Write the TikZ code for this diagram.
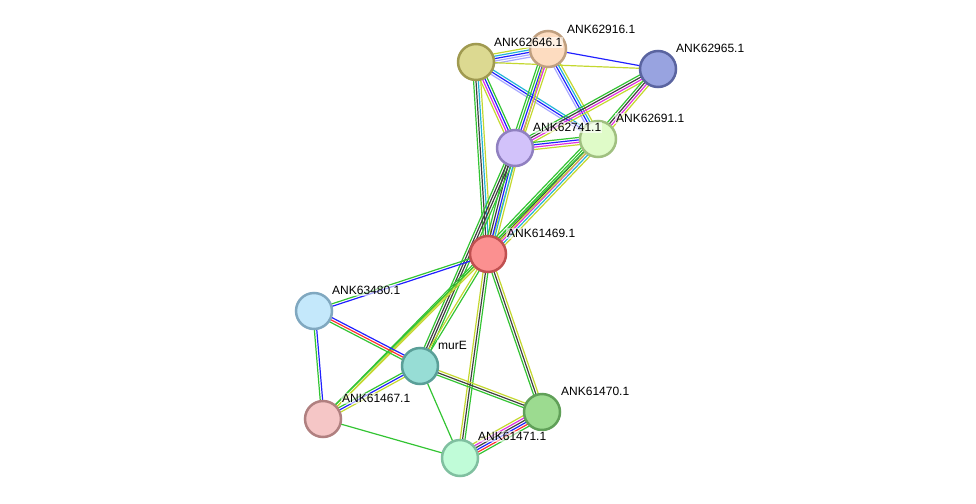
\documentclass[tikz,border=0pt]{standalone}
\usepackage{fontspec}
\setmainfont{Liberation Sans}
\usetikzlibrary{calc,backgrounds}
\definecolor{sgreen}{HTML}{33C433}
\definecolor{sblue}{HTML}{2020FF}
\definecolor{sblack}{HTML}{404040}
\definecolor{smag}{HTML}{E030E0}
\definecolor{scyan}{HTML}{22B4D8}
\definecolor{syellow}{HTML}{C4D830}
\definecolor{slav}{HTML}{A8A8FF}
\definecolor{sred}{HTML}{FF3030}
\tikzset{
  prot/.style={circle, minimum size=36pt, inner sep=0pt, line width=2.5pt},
  plabel/.style={font=\fontsize{12pt}{13pt}\selectfont, anchor=south west, inner sep=1pt, fill=white, fill opacity=0.6, text opacity=1},
  edgeline/.style={line width=1.2pt}
}
\newcommand\stredge[3]{%
  \foreach \c [count=\n] in {#3} {\xdef\edgecount{\n}}%
  \foreach \c [count=\i] in {#3} {%
    \pgfmathsetmacro\off{(\i-(\edgecount+1)/2)*2.4}%
    \draw[\c, edgeline] ($(#1.center)!\off pt!90:(#2.center)$) -- ($(#2.center)!\off pt!-90:(#1.center)$);
  }}
\begin{document}
\begin{tikzpicture}[x=1pt,y=-1pt]
\useasboundingbox (0,0) rectangle (976,503);
\node[prot, fill={rgb,255:red,220;green,217;blue,145}, draw={rgb,255:red,160;green,154;blue,80}] (n62646) at (476,62) {};
\node[prot, fill={rgb,255:red,253;green,220;blue,192}, draw={rgb,255:red,192;green,160;blue,128}] (n62916) at (548,49) {};
\node[prot, fill={rgb,255:red,152;green,163;blue,224}, draw={rgb,255:red,90;green,100;blue,160}] (n62965) at (658,69) {};
\node[prot, fill={rgb,255:red,210;green,194;blue,250}, draw={rgb,255:red,144;green,128;blue,192}] (n62741) at (515,148) {};
\node[prot, fill={rgb,255:red,223;green,251;blue,200}, draw={rgb,255:red,160;green,192;blue,128}] (n62691) at (598,139) {};
\node[prot, fill={rgb,255:red,251;green,144;blue,144}, draw={rgb,255:red,192;green,80;blue,80}] (n61469) at (488,254) {};
\node[prot, fill={rgb,255:red,196;green,232;blue,251}, draw={rgb,255:red,128;green,168;blue,192}] (n63480) at (314,311) {};
\node[prot, fill={rgb,255:red,151;green,221;blue,213}, draw={rgb,255:red,90;green,159;blue,152}] (murE) at (420,366) {};
\node[prot, fill={rgb,255:red,245;green,198;blue,198}, draw={rgb,255:red,176;green,128;blue,128}] (n61467) at (323,419) {};
\node[prot, fill={rgb,255:red,156;green,219;blue,144}, draw={rgb,255:red,96;green,160;blue,88}] (n61470) at (542,412) {};
\node[prot, fill={rgb,255:red,192;green,252;blue,216}, draw={rgb,255:red,128;green,192;blue,160}] (n61471) at (460,458) {};
\node[plabel] (l62646) at ($(n62646.center)+(17,-14)$) {ANK62646.1};
\node[plabel] (l62916) at ($(n62916.center)+(18,-14)$) {ANK62916.1};
\node[plabel] (l62965) at ($(n62965.center)+(17,-15)$) {ANK62965.1};
\node[plabel] (l62741) at ($(n62741.center)+(17,-15)$) {ANK62741.1};
\node[plabel] (l62691) at ($(n62691.center)+(17,-15)$) {ANK62691.1};
\node[plabel] (l61469) at ($(n61469.center)+(18,-15)$) {ANK61469.1};
\node[plabel] (l63480) at ($(n63480.center)+(17,-15)$) {ANK63480.1};
\node[plabel] (lmurE) at ($(murE.center)+(17,-15)$) {murE};
\node[plabel] (l61467) at ($(n61467.center)+(18,-15)$) {ANK61467.1};
\node[plabel] (l61470) at ($(n61470.center)+(18,-15)$) {ANK61470.1};
\node[plabel] (l61471) at ($(n61471.center)+(17,-16)$) {ANK61471.1};
\begin{pgfonlayer}{background}
\stredge{n62646}{n62916}{slav,slav,sblue,scyan,syellow}
\stredge{n62646}{n62965}{syellow}
\stredge{n62916}{n62965}{sblue}
\stredge{n62646}{n62741}{syellow,smag,sblue,sgreen}
\stredge{n62646}{n62691}{slav,sblue,scyan}
\stredge{n62916}{n62691}{slav,sblue,scyan,syellow}
\stredge{n62646}{n61469}{sgreen,sblack,scyan,syellow}
\stredge{n62916}{n62741}{sgreen,sgreen,sblue,smag,syellow}
\stredge{n62916}{n61469}{syellow}
\stredge{n62965}{n62741}{sgreen,sblack,smag,syellow}
\stredge{n62965}{n62691}{sgreen,sblack,smag,syellow}
\stredge{n62741}{n62691}{syellow,smag,sblue,sgreen}
\stredge{n62741}{n61469}{sgreen,sblack,sblue,scyan,syellow}
\stredge{n62691}{n61469}{sgreen,sgreen,sblack,smag,scyan,syellow}
\stredge{n62741}{murE}{sgreen,sblack,sblack,sgreen}
\stredge{n62691}{n61467}{sgreen,syellow}
\stredge{n61469}{n63480}{sgreen,sblue}
\stredge{n61469}{murE}{syellow,sgreen}
\stredge{n61469}{n61467}{sgreen,syellow}
\stredge{n61469}{n61470}{sgreen,sblack,syellow}
\stredge{n61469}{n61471}{syellow,sblack,sgreen}
\stredge{n63480}{murE}{sgreen,sred,sblue}
\stredge{n63480}{n61467}{sgreen,sblue}
\stredge{murE}{n61467}{sgreen,sblue,syellow}
\stredge{murE}{n61470}{sgreen,sblack,syellow}
\stredge{murE}{n61471}{sgreen}
\stredge{n61467}{n61471}{sgreen}
\stredge{n61470}{n61471}{syellow,smag,sblack,sblue,sred,sgreen}
\end{pgfonlayer}
\end{tikzpicture}
\end{document}
